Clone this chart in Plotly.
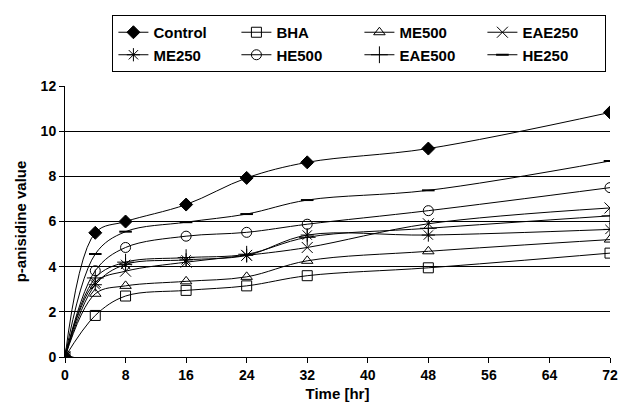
import plotly.graph_objects as go

time_hr = [0, 4, 8, 16, 24, 32, 48, 72]
series_names = ["Control", "BHA", "ME500", "EAE250", "ME250", "HE500", "EAE500", "HE250"]
control = [0, 5.5, 6.0, 6.75, 7.93, 8.62, 9.23, 10.83]
bha = [0, 1.84, 2.7, 2.95, 3.15, 3.6, 3.95, 4.6]
me500 = [0, 2.8, 3.15, 3.35, 3.55, 4.26, 4.68, 5.2]
eae250 = [0, 3.3, 3.8, 4.2, 4.5, 4.85, 5.9, 6.6]
me250 = [0, 3.2, 4.1, 4.3, 4.5, 5.4, 5.4, 5.65]
he500 = [0, 3.82, 4.85, 5.35, 5.52, 5.88, 6.48, 7.5]
eae500 = [0, 3.5, 4.2, 4.4, 4.55, 5.3, 5.7, 6.25]
he250 = [0, 4.56, 5.55, 5.97, 6.33, 6.95, 7.38, 8.68]
x_ticks = [0, 8, 16, 24, 32, 40, 48, 56, 64, 72]
y_ticks = [0, 2, 4, 6, 8, 10, 12]

values = [control, bha, me500, eae250, me250, he500, eae500, he250]
symbols = ["diamond", "square-open", "triangle-up-open", "x-thin-open",
           "asterisk-open", "circle-open", "cross-thin-open", "line-ew-open"]
sizes = [10, 10, 10, 11, 11, 10, 12, 9]

fig = go.Figure()
for name, vals, sym, sz in zip(series_names, values, symbols, sizes):
    fig.add_trace(go.Scatter(
        x=time_hr, y=vals, name=name, mode="lines+markers",
        line=dict(color="black", width=1, shape="spline", smoothing=1.0),
        marker=dict(symbol=sym, size=sz, color="black",
                    line=dict(color="black", width=2 if sym == "line-ew-open" else 1)),
    ))

font_family = "Liberation Sans, Arial, sans-serif"
fig.update_layout(
    width=629, height=412,
    margin=dict(l=65, r=11, t=86, b=55),
    paper_bgcolor="white", plot_bgcolor="white",
    font=dict(family=font_family, size=13, color="black"),
    showlegend=True,
    legend=dict(
        orientation="h", x=0.087, xanchor="left", y=1.262, yanchor="top",
        entrywidth=78, entrywidthmode="pixels",
        bordercolor="black", borderwidth=1, bgcolor="white",
        font=dict(family=font_family, size=15, color="black", weight="bold"),
        tracegroupgap=0,
    ),
    xaxis=dict(
        range=[0, 72], tickvals=x_ticks, showgrid=False, zeroline=False,
        showline=True, linecolor="black", linewidth=1,
        ticks="outside", ticklen=5, tickcolor="black",
        tickfont=dict(family=font_family, size=14, weight="bold"),
        title=dict(text="Time [hr]", font=dict(family=font_family, size=15, weight="bold"), standoff=6),
    ),
    yaxis=dict(
        range=[0, 12], tickvals=y_ticks, showgrid=True, gridcolor="black", gridwidth=1,
        zeroline=False, showline=True, linecolor="black", linewidth=1,
        ticks="outside", ticklen=5, tickcolor="black",
        tickfont=dict(family=font_family, size=14, weight="bold"),
        title=dict(text="p-anisidine value", font=dict(family=font_family, size=15, weight="bold"), standoff=10),
    ),
)

fig.write_html("out.html")
